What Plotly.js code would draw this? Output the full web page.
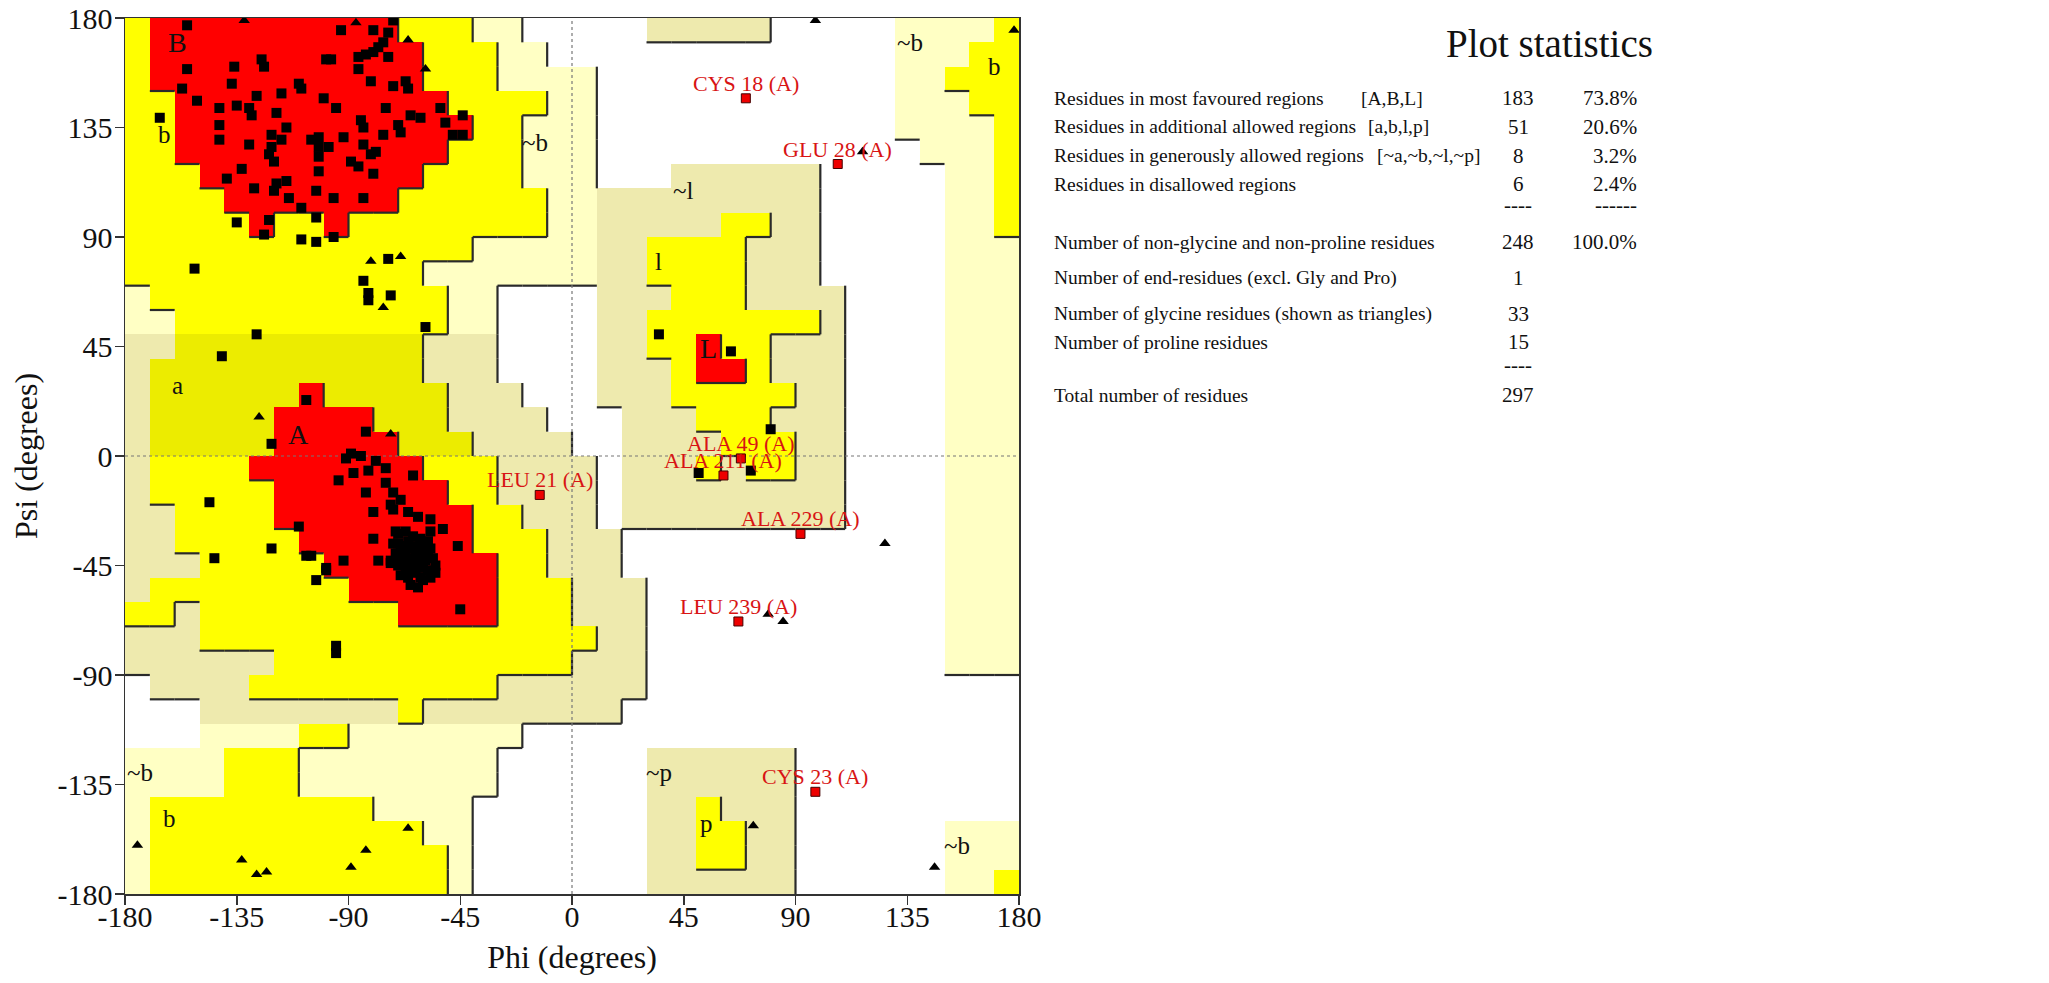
<!DOCTYPE html>
<html><head><meta charset="utf-8">
<script src="https://cdn.plot.ly/plotly-3.0.1.min.js"></script>
<style>html,body{margin:0;padding:0;background:#fff}#chart{width:2049px;height:983px}</style>
</head><body><div id="chart"></div>
<script>
// Region map, 10x10 degree cells. Rows: psi 180 -> -180 (top to bottom); columns: phi -180 -> 180.
// W disallowed, G generous (~b), K generous (~a,~l,~p), Y allowed, A allowed (a), R most favoured
const regionRows = [
"YRRRRRRRRRRYYYGGWWWWWKKKKKWWWWWGGGGY",
"YRRRRRRRRRRRYYYGGWWWWWWWWWWWWWWGGGYY",
"YRRRRRRRRRRRYYYGGGGWWWWWWWWWWWWGGYYY",
"YYRRRRRRRRRRRYYYYGGWWWWWWWWWWWWGGGYY",
"YYRRRRRRRRRRRRYYGGGWWWWWWWWWWWWGGGGY",
"YYRRRRRRRRRRRYYYGGGWWWWWWWWWWWWWGGGY",
"YYYRRRRRRRRRYYYYGGGWWWKKKKKKWWWWWGGY",
"YYYYRRRRRRRYYYYYYGGKKKKKKKKKWWWWWGGY",
"YYYYYRYYRYYYYYYYYGGKKKKKYYKKWWWWWGGY",
"YYYYYYYYYYYYYYGGGGGKKYYYYKKKWWWWWGGG",
"YYYYYYYYYYYYGGGGGGGKKYYYYKKKWWWWWGGG",
"GYYYYYYYYYYYYGGWWWWKKKYYYKKKKWWWWGGG",
"GGYYYYYYYYYYYGGWWWWKKYYYYYYYKWWWWGGG",
"KKAAAAAAAAAAKKKWWWWKKYYRYYKKKWWWWGGG",
"KAAAAAAAAAAAKKKWWWWKKKYRRYKKKWWWWGGG",
"KAAAAAARAAAAAKKKWWWKKKYYYYYKKWWWWGGG",
"KAAAAARRRRAAAKKKKWWWKKKYYYKKKWWWWGGG",
"KAAAAARRRRRAAAKKKKWWKKKKYYYKKWWWWGGG",
"KYYYYRRRRRRRYYYKKKKWKKKYKYYKKWWWWGGG",
"KYYYYYRRRRRRRYYKKKKWKKKKKKKKKWWWWGGG",
"KKYYYYRRRRRRRRYYKKKWKKKKKKKKKWWWWGGG",
"KKYYYYYRRRRRRRYYYKKKWWWWWWWWWWWWWGGG",
"KKKYYYYYRRRRRRRYYKKKWWWWWWWWWWWWWGGG",
"KYYYYYYYYRRRRRRYYYKKKWWWWWWWWWWWWGGG",
"YYKYYYYYYYYRRRRYYYKKKWWWWWWWWWWWWGGG",
"KKKYYYYYYYYYYYYYYYYKKWWWWWWWWWWWWGGG",
"KKKKKKYYYYYYYYYYYYKKKWWWWWWWWWWWWGGG",
"WKKKKYYYYYYYYYYKKKKKKWWWWWWWWWWWWWWW",
"WWWKKKKKKKKYKKKKKKKKWWWWWWWWWWWWWWWW",
"WWWGGGGYYGGGGGGGWWWWWWWWWWWWWWWWWWWW",
"GGGGYYYGGGGGGGGWWWWWWKKKKKKWWWWWWWWW",
"GGGGYYYGGGGGGGGWWWWWWKKKKKKWWWWWWWWW",
"GYYYYYYYYYGGGGWWWWWWWKKYKKKWWWWWWWWW",
"GYYYYYYYYYYYGGWWWWWWWKKYYKKWWWWWWGGG",
"GYYYYYYYYYYYYGWWWWWWWKKYYKKWWWWWWGGG",
"GYYYYYYYYYYYYGWWWWWWWKKKKKKWWWWWWGGY"
];
const regionOrder = ['W','G','K','Y','A','R'];
const regionColour = {W:'#ffffff', G:'#ffffc4', K:'#eeeaae', Y:'#ffff00', A:'#ecec00', R:'#ff0000'};
const regionLevel = {W:0, G:1, K:1, Y:2, A:2, R:3};

// Non-glycine residues (squares)
const sqPhi = [-155,-155,-157,-151,-166,-142,-142,-142,-136,-137,-135,-130,-129,-125,-124,-127,-117,-119,-115,-121,-117,-121,-122,-120,-130,-133,-139,-128,-119,-115,-120,-114,-109,-122,-124,-135,-103,-109,-103,-105,-102,-102,-102,-102,-103,-110,-109,-100,-99,
 -72,-93,-80,-74,-76,-78,-80,-83,-86,-97,-74,-86,-81,-72,-67,-66,-95,-75,-65,-61,-53,-51,-44,-48,-44,-85,-84,-76,-70,-69,-92,-98,-84,-81,-79,-89,-86,-80,-96,-84,-96,
 -152,-127,-141,-84,-82,-82,-73,-74,-59,
 -107,-121,-83,-89,-85,-79,-91,-146,-144,-121,-110,-107,-105,-103,-99,-94,-88,-82,-75,-64,-83,-75,-72,-69,-73,-72,-80,-66,-62,-57,-52,-57,-80,-46,-92,-78,-99,-45,-95,-95,-73,-66,-61,-55,-71,-70,
 -70,-67,-64,-61,-58,-72,-69,-66,-63,-60,-57,-71,-68,-65,-62,-59,-56,-73,-70,-67,-64,-61,-58,-55,-69,-66,-63,-60,-57,-65,-62,-68,-66,-63,-60,-64,-67,-61,-70,-58,
 35,64,80,51,72];
const sqPsi = [177,159,151,146,139,143,136,130,160,153,144,143,140,163,160,148,149,141,135,132,130,127,124,121,128,118,114,110,112,113,109,106,102,97,91,96,98,89,88,130,131,127,123,117,109,153,151,147,163,
 179,175,175,174,170,168,166,165,164,163,164,159,154,152,154,151,143,143,140,139,143,137,140,132,132,138,135,132,136,133,131,127,128,124,125,121,119,116,106,106,90,
 77,50,41,72,67,64,66,81,53,
 23,5,10,1,0,-2,-1,-19,-42,-38,-29,-41,-41,-51,-47,-10,-7,-6,-5,-8,-15,-11,-15,-18,-20,-22,-23,-23,-25,-26,-30,-31,-34,-37,-43,-43,-46,-63,-78,-81,-43,-47,-50,-48,-31,-36,
 -32,-31,-33,-34,-35,-36,-37,-38,-37,-39,-38,-40,-41,-42,-41,-43,-42,-44,-45,-46,-44,-46,-47,-45,-49,-50,-48,-51,-50,-53,-54,-43,-35,-40,-44,-47,-39,-37,-42,-41,
 50,43,11,-7,-6];

// Glycine residues (triangles)
const glyPhi = [-132,-87,-66,-59,98,117,178,-81,-69,-76,-126,-73,126,79,85,73,146,-175,-133,-127,-123,-89,-83,-66];
const glyPsi = [179,178,171,159,179,125,175,80,82,61,16,9,-36,-65,-68,-152,-169,-160,-166,-172,-171,-169,-162,-153];

// Labelled residues (red squares)
const flagNames = ["CYS 18 (A)","GLU 28 (A)","LEU 21 (A)","ALA 49 (A)","ALA 211 (A)","ALA 229 (A)","LEU 239 (A)","CYS 23 (A)"];
const flagPhi = [70,107,-13,68,61,92,67,98];
const flagPsi = [147,120,-16,-1,-8,-32,-68,-138];

// Region letters
const regionLabelText = ["B","b","~b","~b","b","a","A","~l","l","L","~p","p","~b","b","~b"];
const regionLabelPhi = [-159,-164,-15,136,170,-159,-110,45,35,55,35,54,-174,-162,155];
const regionLabelPsi = [170,132,129,170,160,29,9,109,80,44,-130,-151,-130,-149,-160];

// Plot statistics
const statTitle = "Plot statistics";
const statLabels = ["Residues in most favoured regions","Residues in additional allowed regions","Residues in generously allowed regions","Residues in disallowed regions","","Number of non-glycine and non-proline residues","Number of end-residues (excl. Gly and Pro)","Number of glycine residues (shown as triangles)","Number of proline residues","","Total number of residues"];
const statRegions = ["[A,B,L]","[a,b,l,p]","[~a,~b,~l,~p]","","","","","","","",""];
const statCounts = ["183","51","8","6","----","248","1","33","15","----","297"];
const statPercents = ["73.8%","20.6%","3.2%","2.4%","------","100.0%","","","","",""];

const tickVals = [-180,-135,-90,-45,0,45,90,135,180];
const tickText = ["-180","-135","-90","-45","0","45","90","135","180"];

// ---------- build ----------
const cell = 10, phiMin = -180, psiMax = 180;
const nRows = regionRows.length, nCols = regionRows[0].length;
const zCodes = regionRows.map(row => row.split('').map(ch => regionOrder.indexOf(ch)));
const cellPhi = Array.from({length:nCols}, (_, c) => phiMin + cell*(c+0.5));
const cellPsi = Array.from({length:nRows}, (_, r) => psiMax - cell*(r+0.5));
const nC = regionOrder.length;
const colorscale = [];
regionOrder.forEach((k,i)=>{ colorscale.push([i/nC, regionColour[k]]); colorscale.push([(i+1)/nC, regionColour[k]]); });

const lev = (r,c) => regionLevel[regionRows[r][c]];
const bx = [], by = [];
for (let r=0;r<nRows;r++) for (let c=0;c<nCols;c++) {
  const L = lev(r,c);
  if (c < nCols-1 && L > lev(r,c+1)) { const x = phiMin+cell*(c+1); bx.push(x,x,null); by.push(psiMax-cell*r, psiMax-cell*(r+1), null); }
  if (r < nRows-1 && L > lev(r+1,c)) { const y = psiMax-cell*(r+1); bx.push(phiMin+cell*c, phiMin+cell*(c+1), null); by.push(y,y,null); }
}

const serif = '"Liberation Serif","Times New Roman",serif';
const traces = [
  {type:'heatmap', x:cellPhi, y:cellPsi, z:zCodes, zmin:-0.5, zmax:nC-0.5, colorscale:colorscale, showscale:false, hoverinfo:'skip'},
  {type:'scatter', mode:'lines', x:bx, y:by, line:{color:'#2a2a2a', width:2.2}, hoverinfo:'skip', connectgaps:false},
  {type:'scatter', mode:'lines', x:[0,0], y:[-180,180], line:{color:'#777', width:1.2, dash:'dot'}, hoverinfo:'skip'},
  {type:'scatter', mode:'lines', x:[-180,180], y:[0,0], line:{color:'#777', width:1.2, dash:'dot'}, hoverinfo:'skip'},
  {type:'scatter', mode:'markers', x:sqPhi, y:sqPsi, marker:{symbol:'square', size:10, color:'#000'}, hoverinfo:'skip'},
  {type:'scatter', mode:'markers', x:glyPhi, y:glyPsi, marker:{symbol:'triangle-up', size:10, color:'#000'}, hoverinfo:'skip'},
  {type:'scatter', mode:'markers', x:flagPhi, y:flagPsi, marker:{symbol:'square', size:9, color:'#ee0000', line:{color:'#400', width:1}}, hoverinfo:'skip'}
];

const annotations = [];
flagNames.forEach((t,i)=>annotations.push({x:flagPhi[i], y:flagPsi[i], xref:'x', yref:'y', text:t, showarrow:false, xanchor:'center', yanchor:'middle', yshift:15, font:{family:serif, size:22, color:'#d81414'}}));
regionLabelText.forEach((t,i)=>annotations.push({x:regionLabelPhi[i], y:regionLabelPsi[i], xref:'x', yref:'y', text:t, showarrow:false, xanchor:'center', yanchor:'middle', font:{family:serif, size:(t===t.toUpperCase() && t.indexOf('~')<0)?28:25, color:'#111'}}));

const W = 2049, H = 983, mL = 125, mR = 1030, mT = 18, mB = 89;
const pw = W-mL-mR, ph = H-mT-mB;
const px = X => (X-mL)/pw, py = Y => (H-mB-Y)/ph;
const statY = [98,127,156,184,205,242,278,314,342,365,395];
const regionColX = [1359,1366,1375];
annotations.push({xref:'paper', yref:'paper', x:px(1549), y:py(43), text:statTitle, showarrow:false, xanchor:'center', yanchor:'middle', font:{family:serif, size:39, color:'#111'}});
statLabels.forEach((t,i)=>{
  if (t) annotations.push({xref:'paper', yref:'paper', x:px(1052), y:py(statY[i]), text:t, showarrow:false, xanchor:'left', yanchor:'middle', font:{family:serif, size:19.5, color:'#111'}});
  if (statRegions[i]) annotations.push({xref:'paper', yref:'paper', x:px(regionColX[i]), y:py(statY[i]), text:statRegions[i], showarrow:false, xanchor:'left', yanchor:'middle', font:{family:serif, size:19.5, color:'#111'}});
  if (statCounts[i]) annotations.push({xref:'paper', yref:'paper', x:px(1518), y:py(statY[i]), text:statCounts[i], showarrow:false, xanchor:'center', yanchor:'middle', font:{family:serif, size:21, color:'#111'}});
  if (statPercents[i]) annotations.push({xref:'paper', yref:'paper', x:px(1639), y:py(statY[i]), text:statPercents[i], showarrow:false, xanchor:'right', yanchor:'middle', font:{family:serif, size:21, color:'#111'}});
});

const axisCommon = {range:[-180,180], tickvals:tickVals, ticktext:tickText, ticks:'outside', ticklen:9, tickwidth:1.5, tickcolor:'#333', showline:true, mirror:true, linecolor:'#333', linewidth:1.5, showgrid:false, zeroline:false, tickfont:{family:serif, size:30, color:'#111'}, fixedrange:true};
const layout = {
  width:W, height:H, margin:{l:mL, r:mR, t:mT, b:mB, pad:0},
  paper_bgcolor:'#fff', plot_bgcolor:'#fff', showlegend:false,
  xaxis:Object.assign({}, axisCommon, {ticklabelstandoff:-14, title:{text:'Phi (degrees)', font:{family:serif, size:32, color:'#111'}, standoff:14}}),
  yaxis:Object.assign({}, axisCommon, {ticklabelstandoff:-4, title:{text:'Psi (degrees)', font:{family:serif, size:32, color:'#111'}, standoff:10}}),
  annotations:annotations
};
Plotly.newPlot('chart', traces, layout, {staticPlot:true, displayModeBar:false});
</script></body></html>
